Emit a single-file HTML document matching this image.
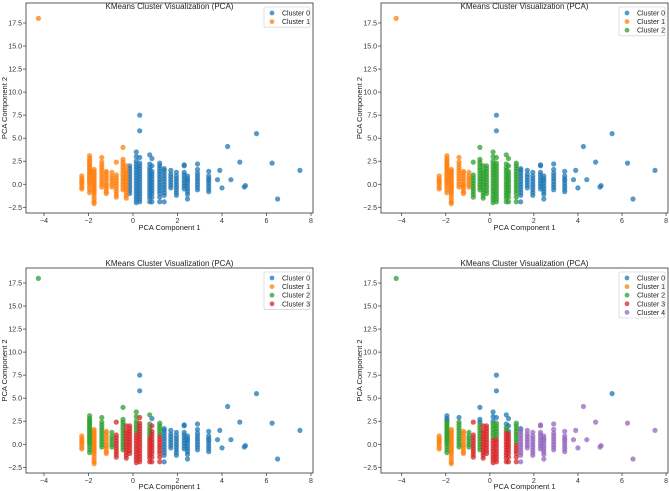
<!DOCTYPE html>
<html><head><meta charset="utf-8"><style>
body{margin:0;background:#fff}
svg{display:block;font-family:"Liberation Sans","DejaVu Sans",sans-serif}
</style></head><body>
<svg id="fig" width="669" height="491" viewBox="0 0 669 491"></svg>
<script>
// Shared data: stripes of PCA points
const stripeX = [-2.3,-1.95,-1.75,-1.4,-1.2,-0.95,-0.75,-0.45,-0.3,-0.15,0.15,0.3,0.75,0.85,1.2,1.4,1.7,1.95,2.3,2.45,2.9,3.4];
const stripeYs = [
 [-0.5,-0.3,0,0.2,0.4,0.6,0.9],
 [-0.9,-0.6,-0.3,0,0.2,0.4,0.6,0.8,1,1.2,1.4,1.6,1.8,2,2.2,2.4,2.6,2.8,3.1],
 [-2.1,-1.9,-1.6,-1.3,-1,-0.8,-0.6,-0.4,-0.2,0,0.2,0.4,0.6,0.8,1,1.2,1.4,1.6],
 [-0.3,0,0.3,0.6,0.9,1.2,1.5,1.8,2.1,2.4,2.9],
 [-1,-0.8,-0.5,-0.2,0,0.3,0.6,0.9,1.2,1.4],
 [-0.3,0,0.3,0.6,0.9,1.3],
 [-1.4,-1.1,-0.8,-0.5,-0.2,0.1,0.4,0.7,1,2.4],
 [-0.6,-0.3,0,0.3,0.6,0.9,1.2,1.5,1.8,2.1,2.4,2.7,4.0],
 [-1.5,-1.2,-0.9,-0.6,-0.3,0,0.3,0.6,0.9,1.2,1.5,2.0],
 [-1,-0.7,-0.4,-0.1,0.2,0.5,0.8,1.1,1.4,1.7,2.0],
 [-2,-1.7,-1.4,-1.1,-0.8,-0.5,-0.2,0.1,0.4,0.7,1,1.3,1.6,1.9,2.2,2.5,3.0,3.5],
 [-1.9,-1.6,-1.3,-1,-0.7,-0.4,-0.1,0.2,0.5,0.8,1.1,1.4,1.7,2.0,2.3,2.9,5.8,7.5],
 [-1.9,-1.5,-1.2,-0.9,-0.6,-0.3,0,0.3,0.6,0.9,1.2,1.5,1.8,2.2,3.2],
 [-1.9,-1.4,-1,-0.7,-0.4,-0.1,0.2,0.5,0.8,1.1,1.4,2.0,2.8],
 [-1.9,-1.4,-1,-0.7,-0.4,-0.1,0.2,0.5,0.8,1.1,1.4,1.7,2.0,2.3],
 [-1.9,-1.2,-0.9,-0.6,-0.3,0,0.3,0.6,0.9,1.2,1.5,1.7],
 [-0.4,-0.1,0.2,0.5,0.8,1.1,1.5],
 [-1.2,-0.9,-0.6,-0.3,0,0.3,0.6,0.9,1.3],
 [-0.5,-0.2,0.1,0.4,0.7,1,1.3,2.0,2.1],
 [-1.6,-1.1,-0.8,-0.5,-0.2,0.1,0.4,0.6,0.9],
 [-0.6,-0.3,0,0.3,0.6,0.9,1.2,1.6,2.2],
 [-0.8,-0.5,-0.2,0.1,0.4,0.6,0.9,1.4]
];
// labels per panel (k=2,3,4,5): number, or [l0,t1,l1,t2,l2...] thresholds on y
const labK2 = [1,1,1,1,1,1,1,1,1,0,0,0,0,0,0,0,0,0,0,0,0,0];
const labK3 = [1,1,1,1,1,1,2,2,2,2,2,[2,5,0],2,2,2,0,0,0,0,0,0,0];
const labK4 = [1,2,1,2,1,2,3,2,3,3,[3,1.2,2],[3,5,0],[3,0.8,2],[3,2.6,0],[3,1.0,2],0,0,0,0,0,0,0];
const labK5 = [1,[2,2.5,0],1,[2,2.5,0],1,2,3,[2,2.3,0],3,3,[3,0.6,2,2.3,0],[3,0.6,2,2.6,0],[3,1.3,2,2.0,0],[3,1.3,0],[3,0,2],[4,1.6,0],4,4,4,4,4,4];
// outliers
const outX = [3.8,3.9,4.0,4.25,4.4,4.8,5.0,5.05,5.55,6.25,6.5,7.5,-4.25];
const outY = [0.5,1.5,-0.4,4.1,0.5,2.4,-0.3,-0.15,5.5,2.3,-1.6,1.5,18];
const outK2 = [0,0,0,0,0,0,0,0,0,0,0,0,1];
const outK3 = [0,0,0,0,0,0,0,0,0,0,0,0,1];
const outK4 = [0,0,0,0,0,0,0,0,0,0,0,0,2];
const outK5 = [4,4,4,4,4,4,4,4,0,4,4,4,2];
const xTicks = [-4,-2,0,2,4,6,8];
const yTicks = [-2.5,0,2.5,5,7.5,10,12.5,15,17.5];
const colors = ['#1f77b4','#ff7f0e','#2ca02c','#d62728','#9467bd'];

const panels = [
 {fx0:26,fx1:313,fy0:3,fy1:213,px4:44,pxu:22.25,py175:23,pym25:207.3,k:2,lab:labK2,out:outK2,title:6,xl:228,name:'k2'},
 {fx0:381,fx1:668,fy0:3,fy1:213,px4:401.7,pxu:22.03,py175:23,pym25:207.3,k:3,lab:labK3,out:outK3,title:6,xl:228,name:'k3'},
 {fx0:26,fx1:313,fy0:268,fy1:473,px4:44,pxu:22.25,py175:283,pym25:467.3,k:4,lab:labK4,out:outK4,title:263,xl:487,name:'k4'},
 {fx0:381,fx1:668,fy0:268,fy1:473,px4:401.7,pxu:22.03,py175:283,pym25:467.3,k:5,lab:labK5,out:outK5,title:263,xl:487,name:'k5'}
];
const NS='http://www.w3.org/2000/svg';
const svg=document.getElementById('fig');
function mk(tag,attrs,parent){const e=document.createElementNS(NS,tag);for(const k in attrs)e.setAttribute(k,attrs[k]);(parent||svg).appendChild(e);return e;}
function labelFor(spec,y){if(typeof spec==='number')return spec;let l=spec[0];for(let i=1;i<spec.length;i+=2){if(y>=spec[i])l=spec[i+1];}return l;}

panels.forEach((p,pi)=>{
 const g=mk('g',{});
 
 
 const sx=x=>p.px4+(x+4)*p.pxu;
 const syu=(p.pym25-p.py175)/20;
 const sy=y=>p.py175+(17.5-y)*syu;
 const clip='c'+pi;
 const cp=mk('clipPath',{id:clip},g);
 mk('rect',{x:p.fx0,y:p.fy0,width:p.fx1-p.fx0,height:p.fy1-p.fy0},cp);
 // points grouped by label
 const pts=[];
 stripeX.forEach((x,i)=>stripeYs[i].forEach(y=>pts.push([x,y,labelFor(p.lab[i],y)])));
 outX.forEach((x,i)=>pts.push([x,outY[i],p.out[i]]));
 for(let c=0;c<p.k;c++){
  const sg=mk('g',{'clip-path':'url(#'+clip+')'},g);
  
  
  pts.filter(q=>q[2]===c).forEach(q=>{
   const dot=mk('circle',{cx:sx(q[0]).toFixed(1),cy:sy(q[1]).toFixed(1),r:2.6,fill:colors[c],'fill-opacity':0.75},sg);
   
   
  });
 }
 const fr=mk('rect',{x:p.fx0,y:p.fy0,width:p.fx1-p.fx0,height:p.fy1-p.fy0,fill:'none',stroke:'#333','stroke-width':0.8},g);
 
 
 xTicks.forEach(t=>{const x=sx(t);mk('line',{x1:x,x2:x,y1:p.fy1,y2:p.fy1+3,stroke:'#333','stroke-width':0.7},g);
  const tx=mk('text',{x:x,y:p.fy1+10,'font-size':7,'text-anchor':'middle',fill:'#333'},g);tx.textContent=(t<0?'\u2212'+(-t):t);
  });
 yTicks.forEach(t=>{const y=sy(t);mk('line',{x1:p.fx0-3,x2:p.fx0,y1:y,y2:y,stroke:'#333','stroke-width':0.7},g);
  const tx=mk('text',{x:p.fx0-4,y:y+2.5,'font-size':7,'text-anchor':'end',fill:'#333'},g);tx.textContent=(t<0?'\u2212'+(-t).toFixed(1):t.toFixed(1));
  });
 const ti=mk('text',{x:(p.fx0+p.fx1)/2,y:p.title+3,'font-size':8,'text-anchor':'middle',fill:'#222'},g);ti.textContent='KMeans Cluster Visualization (PCA)';
 
 const xl=mk('text',{x:(p.fx0+p.fx1)/2,y:p.xl+2,'font-size':7.5,'text-anchor':'middle',fill:'#222'},g);xl.textContent='PCA Component 1';
 
 const yc=(p.fy0+p.fy1)/2, yx=p.fx0-19;
 const yl=mk('text',{x:yx,y:yc,'font-size':7.5,'text-anchor':'middle',fill:'#222',transform:'rotate(-90 '+yx+' '+yc+')'},g);yl.textContent='PCA Component 2';
 
 // legend
 const lg=mk('g',{},g);
 
 
 const lx0=p.fx1-49, ly0=p.fy0+4, rh=8.6;
 mk('rect',{x:lx0,y:ly0,width:46,height:p.k*rh+3,fill:'#fff','fill-opacity':0.8,stroke:'#ccc','stroke-width':0.6,rx:1.5},lg);
 for(let c=0;c<p.k;c++){
  const ey=ly0+6+c*rh;
  const en=mk('g',{},lg);
  
  
  mk('circle',{cx:lx0+8,cy:ey,r:2.4,fill:colors[c],'fill-opacity':0.75},en);
  const t=mk('text',{x:lx0+18,y:ey+2.5,'font-size':7,fill:'#222'},en);t.textContent='Cluster '+c;
 }
});
</script>
</body></html>
